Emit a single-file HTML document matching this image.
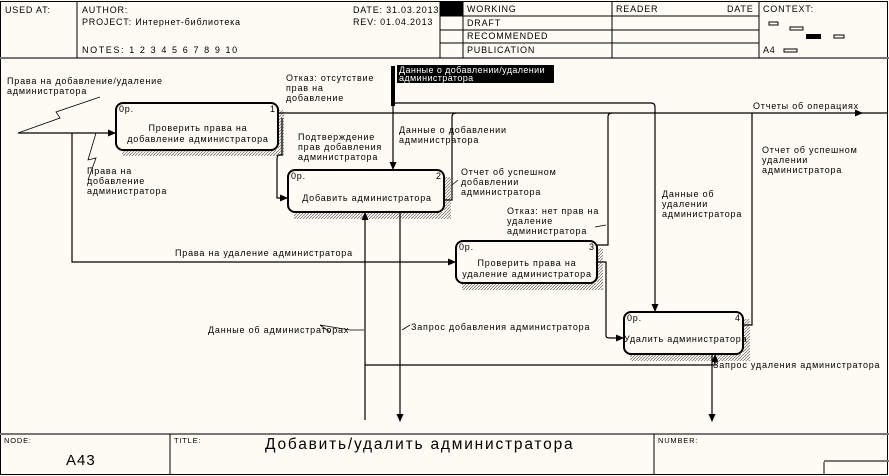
<!DOCTYPE html>
<html><head><meta charset="utf-8"><style>
html,body{margin:0;padding:0;background:#fdfbf3;}
svg{display:block;font-family:"Liberation Sans","Noto Sans CJK SC",sans-serif;}
text{font-size:9px;letter-spacing:0.8px;fill:#000;}
</style></head><body>
<svg width="889" height="476" viewBox="0 0 889 476" xmlns="http://www.w3.org/2000/svg">
<defs>
<pattern id="h" width="3" height="3" patternUnits="userSpaceOnUse"><path d="M0 3L3 0" stroke="#777" stroke-width="0.8"/></pattern>
<marker id="a" markerWidth="8" markerHeight="8" refX="7" refY="4" orient="auto" markerUnits="userSpaceOnUse"><path d="M0 0.5L8 4L0 7.5z" fill="#000"/></marker>
</defs>
<rect x="0" y="0" width="889" height="476" fill="#fdfbf3"/>
<rect x="0.5" y="1.5" width="887" height="473" fill="none" stroke="#000"/>
<!-- header -->
<g stroke="#000" fill="none">
<line x1="0" y1="58" x2="889" y2="58" stroke="#777" stroke-width="2"/>
<line x1="77" y1="2" x2="77" y2="58"/>
<line x1="440" y1="2" x2="440" y2="58"/>
<line x1="463" y1="2" x2="463" y2="58"/>
<line x1="612" y1="2" x2="612" y2="58"/>
<line x1="759" y1="2" x2="759" y2="58"/>
<line x1="440" y1="16" x2="759" y2="16"/>
<line x1="440" y1="30" x2="759" y2="30"/>
<line x1="440" y1="43" x2="759" y2="43"/>
</g>
<rect x="440" y="2" width="23" height="14" fill="#000"/>
<text x="5" y="13">USED AT:</text>
<text x="82" y="13">AUTHOR:</text>
<text x="82" y="25">PROJECT:  Интернет-библиотека</text>
<text x="82" y="53" style="letter-spacing:1.6px">NOTES:  1  2  3  4  5  6  7  8  9  10</text>
<text x="353" y="13">DATE: 31.03.2013</text>
<text x="353" y="25">REV:   01.04.2013</text>
<text x="467" y="12">WORKING</text>
<text x="467" y="26">DRAFT</text>
<text x="467" y="39">RECOMMENDED</text>
<text x="467" y="53">PUBLICATION</text>
<text x="616" y="12">READER</text>
<text x="727" y="12">DATE</text>
<text x="763" y="12">CONTEXT:</text>
<text x="763" y="53">A4</text>
<g fill="none" stroke="#000"><rect x="769" y="22" width="9" height="3"/><rect x="790" y="27" width="13" height="3"/><rect x="834" y="35" width="10" height="3"/><rect x="784" y="49" width="13" height="3"/></g>
<rect x="806" y="34" width="15" height="5" fill="#000"/>
<!-- footer -->
<g stroke="#000" fill="none">
<line x1="0" y1="434" x2="889" y2="434" stroke="#777" stroke-width="2"/>
<line x1="170" y1="434" x2="170" y2="474"/>
<line x1="654" y1="434" x2="654" y2="474"/>
<line x1="824" y1="462" x2="824" y2="474"/>
<line x1="824" y1="461" x2="889" y2="461" stroke="#777" stroke-width="2"/>
</g>
<text x="4" y="443" style="font-size:7.5px">NODE:</text>
<text x="66" y="465" style="font-size:15px;letter-spacing:1px">A43</text>
<text x="174" y="443" style="font-size:7.5px">TITLE:</text>
<text x="265" y="449" style="font-size:15.5px;letter-spacing:1.8px">Добавить/удалить  администратора</text>
<text x="658" y="443" style="font-size:7.5px">NUMBER:</text>
<!-- shadows -->
<g fill="url(#h)">
<path d="M278 110h6v46h-162v-6h156z"/>
<path d="M444 177h7v42h-157v-7h150z"/>
<path d="M597 248h6v42h-141v-7h135z"/>
<path d="M743 319h7v42h-120v-7h113z"/>
</g>
<!-- boxes -->
<g fill="#fdfbf3" stroke="#000" stroke-width="2">
<rect x="116" y="103" width="162" height="47" rx="7"/>
<rect x="288" y="170" width="156" height="42" rx="7"/>
<rect x="456" y="241" width="141" height="42" rx="7"/>
<rect x="624" y="312" width="119" height="42" rx="7"/>
</g>
<text x="119" y="112">0р.</text><text x="270" y="112">1</text>
<text x="198" y="131" text-anchor="middle">Проверить права на</text>
<text x="198" y="142" text-anchor="middle">добавление администратора</text>
<text x="291" y="179">0р.</text><text x="436" y="179">2</text>
<text x="367" y="201" text-anchor="middle">Добавить администратора</text>
<text x="459" y="250">0р.</text><text x="589" y="250">3</text>
<text x="527" y="266" text-anchor="middle">Проверить права на</text>
<text x="527" y="277" text-anchor="middle">удаление администратора</text>
<text x="627" y="321">0р.</text><text x="735" y="321">4</text>
<text x="624" y="342">Удалить администратора</text>
<!-- connectors -->
<g fill="none" stroke="#000" stroke-width="1.2">
<path d="M18 133H115" marker-end="url(#a)"/>
<path d="M18 133L60 118L56 112L100 97" stroke-width="0.8"/>
<path d="M96 133L88 160L96 158L88 180" stroke-width="0.8"/>
<path d="M72 133V262H455" marker-end="url(#a)"/>
<path d="M393 66V169" marker-end="url(#a)"/>
<path d="M393 103H651Q655 103 655 107V311" marker-end="url(#a)"/>
<path d="M278 113H862" marker-end="url(#a)"/>
<path d="M862 113H887"/>
<path d="M282 118V155H279Q277 155 277 160V198H287" marker-end="url(#a)"/>
<path d="M444 200H452V117Q452 113 456 113"/>
<path d="M597 245H608V117Q608 113 612 113"/>
<path d="M743 325H752V113"/>
<path d="M597 262H606V336Q606 338 610 338H623" marker-end="url(#a)"/>
<path d="M365 420V213" marker-end="url(#a)"/>
<path d="M365 365H715V355" marker-end="url(#a)"/>
<path d="M400 212V421" marker-end="url(#a)"/>
<path d="M712 354V421" marker-end="url(#a)"/>
<path d="M364 330H350L320 325L330 332" stroke-width="0.8"/>
<path d="M402 330L410 325" stroke-width="0.8"/>
<path d="M452 185L458 180" stroke-width="0.8"/>
<path d="M595 227L606 225" stroke-width="0.8"/>
</g>
<rect x="391" y="66" width="4" height="40" fill="#000"/>
<rect x="397" y="65" width="157" height="18" fill="#000"/>
<text x="399" y="73" style="fill:#fff;letter-spacing:0.4px">Данные о добавлении/удалении</text>
<text x="399" y="81" style="fill:#fff;letter-spacing:0.4px">администратора</text>
<!-- labels -->
<text x="7" y="84">Права на добавление/удаление</text>
<text x="7" y="94">администратора</text>
<text x="286" y="81">Отказ: отсутствие</text>
<text x="286" y="91">прав на</text>
<text x="286" y="101">добавление</text>
<text x="87" y="174">Права на</text>
<text x="87" y="184">добавление</text>
<text x="87" y="194">администратора</text>
<text x="298" y="140">Подтверждение</text>
<text x="298" y="150">прав добавления</text>
<text x="298" y="160">администратора</text>
<text x="399" y="133">Данные о добавлении</text>
<text x="399" y="143">администратора</text>
<text x="461" y="175">Отчет об успешном</text>
<text x="461" y="185">добавлении</text>
<text x="461" y="195">администратора</text>
<text x="507" y="214">Отказ: нет прав на</text>
<text x="507" y="224">удаление</text>
<text x="507" y="234">администратора</text>
<text x="175" y="256">Права на удаление администратора</text>
<text x="662" y="197">Данные об</text>
<text x="662" y="207">удалении</text>
<text x="662" y="217">администратора</text>
<text x="753" y="109">Отчеты об операциях</text>
<text x="762" y="153">Отчет об успешном</text>
<text x="762" y="163">удалении</text>
<text x="762" y="173">администратора</text>
<text x="208" y="333">Данные об администраторах</text>
<text x="411" y="330">Запрос добавления администратора</text>
<text x="713" y="368">Запрос удаления администратора</text>
</svg>
</body></html>
